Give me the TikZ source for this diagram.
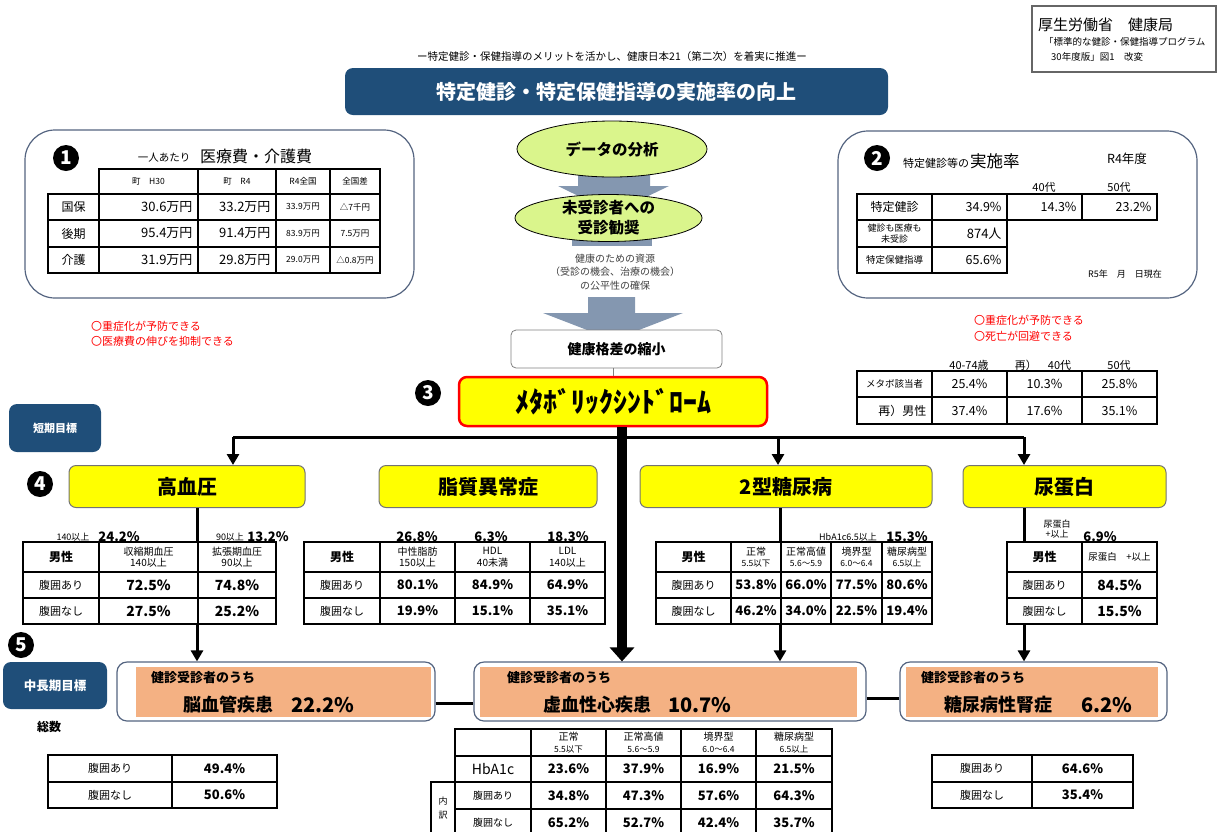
\documentclass[tikz,border=0pt]{standalone}
\usepackage{fontspec}
\setmainfont{Noto Sans CJK JP}
\usetikzlibrary{arrows.meta,shapes.geometric}
\definecolor{navy}{RGB}{31,78,121}
\definecolor{lime}{RGB}{218,245,140}
\definecolor{steel}{RGB}{132,151,176}
\definecolor{salmon}{RGB}{244,177,131}
\definecolor{framec}{RGB}{84,100,128}
\definecolor{redtxt}{RGB}{255,0,0}
\definecolor{darkt}{RGB}{64,64,64}
\definecolor{yel}{RGB}{255,255,0}
\newcommand\fs[2]{\fontsize{#1}{#2}\selectfont}
\newcommand\cellc[6]{\draw[tb] (#1,#3) rectangle (#2,#4); \node[#6] at ({(#1+#2)/2},{(#3+#4)/2}) {#5};}
\newcommand\cellr[6]{\draw[tb] (#1,#3) rectangle (#2,#4); \node[#6,anchor=east] at ({#2-2},{(#3+#4)/2}) {#5};}
\tikzset{
  tb/.style={draw=black,line width=1.3pt,fill=white},
  cnum/.style={circle,fill=black,text=white,inner sep=0pt,minimum size=26,font=\fs{19}{19}\bfseries},
  ybox/.style={draw=black!55,line width=1pt,fill=yel,rounded corners=7,minimum height=42,inner sep=0pt,font=\fs{20}{20}\bfseries},
  nbox/.style={fill=navy,rounded corners=8,text=white,inner sep=0pt,font=\fs{11}{11}\bfseries},
  obox/.style={draw=framec,line width=1.2pt,fill=white,rounded corners=10,minimum height=59,inner sep=0pt},
  con/.style={line width=3pt,draw=black},
  arr/.style={con,-{Triangle[length=11pt,width=12pt]}},
  val/.style={font=\fs{13}{13}\bfseries},
  lab/.style={font=\fs{11}{11}},
  lbb/.style={font=\fs{12}{12}\bfseries},
  hd/.style={font=\fs{10}{11.5},align=center},
  sm/.style={font=\fs{8.5}{9}},
  redl/.style={anchor=west,text=redtxt,font=\fs{11}{11},inner sep=0pt},
}
\begin{document}
\begin{tikzpicture}[x=1pt,y=-1pt]
\useasboundingbox (0,0) rectangle (1217,831);
\clip (0,0) rectangle (1217,831);

% ---------- header ----------
\node[draw=black!60,line width=1.2pt,minimum width=184,minimum height=66,inner sep=0pt] (src) at (1124,39) {};
\node[anchor=west,font=\fs{15}{15},inner sep=0pt] (src1) at (1038,25) {厚生労働省　健康局};
\node[anchor=west,font=\fs{9.5}{9.5},inner sep=0pt] (src2) at (1044,42) {「標準的な健診・保健指導プログラム};
\node[anchor=west,font=\fs{9.5}{9.5},inner sep=0pt] (src3) at (1051,57) {30年度版」図1　改変};

\node[font=\fs{10.5}{10.5}] (sub) at (612,57) {ー特定健診・保健指導のメリットを活かし、健康日本21（第二次）を着実に推進ー};
\node[fill=navy,rounded corners=8,minimum width=543,minimum height=47,inner sep=0pt,text=white,font=\fs{20}{20}\bfseries] (title) at (616.5,91.5) {特定健診・特定保健指導の実施率の向上};

% ---------- box 1 ----------
\node[draw=framec,line width=1.2pt,rounded corners=30,minimum width=389,minimum height=168,inner sep=0pt] (b1) at (219.5,214) {};
\node[cnum] (n1) at (66,158) {1};
\node[font=\fs{10.5}{10.5}] (b1a) at (164,158) {一人あたり};
\node[font=\fs{16}{16}] (b1b) at (256,156) {医療費・介護費};
\begin{scope}[tb/.style={draw=black,line width=1.8pt,fill=white}]
\cellc{99}{198}{169}{194}{町　H30}{sm}
\cellc{198}{276}{169}{194}{町　R4}{sm}
\cellc{276}{330}{169}{194}{R4全国}{sm}
\cellc{330}{380}{169}{194}{全国差}{sm}
\cellc{48}{99}{194}{220}{国保}{font=\fs{12}{12}}
\cellr{99}{198}{194}{220}{30.6万円}{font=\fs{13}{13}}
\cellr{198}{276}{194}{220}{33.2万円}{font=\fs{13}{13}}
\cellc{276}{330}{194}{220}{33.9万円}{sm}
\cellc{330}{380}{194}{220}{△7千円}{sm}
\cellc{48}{99}{220}{247}{後期}{font=\fs{12}{12}}
\cellr{99}{198}{220}{247}{95.4万円}{font=\fs{13}{13}}
\cellr{198}{276}{220}{247}{91.4万円}{font=\fs{13}{13}}
\cellc{276}{330}{220}{247}{83.9万円}{sm}
\cellc{330}{380}{220}{247}{7.5万円}{sm}
\cellc{48}{99}{247}{273}{介護}{font=\fs{12}{12}}
\cellr{99}{198}{247}{273}{31.9万円}{font=\fs{13}{13}}
\cellr{198}{276}{247}{273}{29.8万円}{font=\fs{13}{13}}
\cellc{276}{330}{247}{273}{29.0万円}{sm}
\cellc{330}{380}{247}{273}{△0.8万円}{sm}
\end{scope}
\node[redl] (r1) at (91,326) {〇重症化が予防できる};
\node[redl] (r2) at (91,341) {〇医療費の伸びを抑制できる};

% ---------- box 2 ----------
\node[draw=framec,line width=1.2pt,rounded corners=30,minimum width=359,minimum height=167,inner sep=0pt] (b2) at (1017.5,214.5) {};
\node[cnum] (n2) at (877,158) {2};
\node[anchor=base west,font=\fs{11}{11},inner sep=0pt] (b2a) at (903,167) {特定健診等の};
\node[anchor=base west,font=\fs{16.5}{16.5},inner sep=0pt] (b2b) at (970,167) {実施率};
\node[font=\fs{12.5}{12.5}] (b2c) at (1127,159) {R4年度};
\node[font=\fs{11}{11}] (h40) at (1044,187) {40代};
\node[font=\fs{11}{11}] (h50) at (1119,187) {50代};
\begin{scope}[tb/.style={draw=black,line width=1.6pt,fill=white}]
\cellc{857}{932}{194}{220}{特定健診}{font=\fs{12}{12}}
\cellr{932}{1007}{194}{220}{34.9\%}{font=\fs{12.5}{12.5}}
\cellr{1007}{1082}{194}{220}{14.3\%}{font=\fs{12.5}{12.5}}
\cellr{1082}{1157}{194}{220}{23.2\%}{font=\fs{12.5}{12.5}}
\cellc{857}{932}{220}{247}{健診も医療も\\未受診}{font=\fs{9}{10.5},align=center}
\cellr{932}{1007}{220}{247}{874人}{font=\fs{13}{13}}
\cellc{857}{932}{247}{273}{特定保健指導}{font=\fs{9.5}{9.5}}
\cellr{932}{1007}{247}{273}{65.6\%}{font=\fs{12.5}{12.5}}
\end{scope}
\node[font=\fs{9}{9}] (b2d) at (1125,274) {R5年　月　日現在};
\node[redl] (r3) at (974,320) {〇重症化が予防できる};
\node[redl] (r4) at (974,336) {〇死亡が回避できる};

% metabo table
\node[font=\fs{11}{11}] (m1) at (969,365) {40-74歳};
\node[font=\fs{11}{11}] (m2) at (1043,365) {再）　40代};
\node[font=\fs{11}{11}] (m3) at (1119,365) {50代};
\begin{scope}[tb/.style={draw=black,line width=1.6pt,fill=white}]
\cellc{857}{932}{371}{397}{メタボ該当者}{font=\fs{9.5}{9.5}}
\cellc{932}{1007}{371}{397}{25.4\%}{font=\fs{12.5}{12.5}}
\cellc{1007}{1082}{371}{397}{10.3\%}{font=\fs{12.5}{12.5}}
\cellc{1082}{1157}{371}{397}{25.8\%}{font=\fs{12.5}{12.5}}
\cellr{857}{932}{397}{424}{再）男性}{font=\fs{12}{12}}
\cellc{932}{1007}{397}{424}{37.4\%}{font=\fs{12.5}{12.5}}
\cellc{1007}{1082}{397}{424}{17.6\%}{font=\fs{12.5}{12.5}}
\cellc{1082}{1157}{397}{424}{35.1\%}{font=\fs{12.5}{12.5}}
\end{scope}

% ---------- center flow ----------
\fill[steel] (578,170) -- (650,170) -- (650,186) -- (669,186) -- (613,213) -- (558,186) -- (578,186) -- cycle;
\fill[steel] (572,225) rectangle (652,246);
\fill[steel] (588,297) -- (635,297) -- (635,313) -- (683,313) -- (613,340) -- (543,313) -- (588,313) -- cycle;
\node[ellipse,draw=black,line width=0.8pt,fill=lime,minimum width=190,minimum height=56,inner sep=0pt] (e1) at (612,149) {};
\node[font=\fs{15.5}{15.5}\bfseries] (e1t) at (e1) {データの分析};
\node[ellipse,draw=black,line width=0.8pt,fill=lime,minimum width=187,minimum height=47,inner sep=0pt] (e2) at (608.5,218) {};
\node[font=\fs{15.5}{20}\bfseries,align=center] (e2t) at (e2) {未受診者への\\受診勧奨};
\node[font=\fs{10}{13.5},align=center,text=darkt] (res) at (615,272) {健康のための資源\\（受診の機会、治療の機会）\\の公平性の確保};
\node[draw=black!50,line width=0.8pt,fill=white,rounded corners=5,minimum width=211,minimum height=38,inner sep=0pt,font=\fs{14}{14}\bfseries] (gap) at (616.5,349) {健康格差の縮小};
\node[draw=red,line width=2.5pt,fill=yel,rounded corners=8,minimum width=308,minimum height=49,inner sep=0pt,font=\fs{28}{28}\bfseries] (metabo) at (613,401.5) {ﾒﾀﾎﾞﾘｯｸｼﾝﾄﾞﾛｰﾑ};
\draw[black!50,line width=0.8pt] (gap.south -| metabo.north) -- (metabo.north);
\node[cnum] (n3) at (428,393) {3};

% ---------- side labels ----------
\node[nbox,minimum width=92,minimum height=48] (short) at (55,428) {短期目標};
\node[nbox,minimum width=104,minimum height=47,font=\fs{12.5}{12.5}\bfseries] (midt) at (55,685.5) {中長期目標};
\node[font=\fs{12}{12}\bfseries] (total) at (49,727) {総数};
\node[cnum] (n4) at (40,484) {4};
\node[cnum] (n5) at (21,645) {5};

% ---------- disease boxes ----------
\node[ybox,minimum width=236] (hbp) at (187,486.5) {高血圧};
\node[ybox,minimum width=218] (lip) at (488,486.5) {脂質異常症};
\node[ybox,minimum width=292] (dm) at (786,486.5) {2型糖尿病};
\node[ybox,minimum width=203] (up) at (1064.5,486.5) {尿蛋白};

\node[obox,minimum width=318] (cva) at (276,691.5) {};
\node[obox,minimum width=392] (ihd) at (670,691.5) {};
\node[obox,minimum width=267] (dkd) at (1033.5,691.5) {};
\fill[salmon] (136,667) rectangle (431,717);
\fill[salmon] (480,667) rectangle (857,717);
\fill[salmon] (906,667) rectangle (1158,717);
\node[anchor=west,font=\fs{13}{13}\bfseries,inner sep=0pt] (cva1) at (151,678) {健診受診者のうち};
\node[font=\fs{18}{18}\bfseries] (cva2) at (228,705) {脳血管疾患};
\node[font=\fs{20}{20}\bfseries] (cva3) at (323,705) {22.2\%};
\node[anchor=west,font=\fs{13}{13}\bfseries,inner sep=0pt] (ihd1) at (507,678) {健診受診者のうち};
\node[font=\fs{18}{18}\bfseries] (ihd2) at (597,705) {虚血性心疾患};
\node[font=\fs{20}{20}\bfseries] (ihd3) at (700,705) {10.7\%};
\node[anchor=west,font=\fs{13}{13}\bfseries,inner sep=0pt] (dkd1) at (921,678) {健診受診者のうち};
\node[font=\fs{18}{18}\bfseries] (dkd2) at (998,705) {糖尿病性腎症};
\node[font=\fs{20}{20}\bfseries] (dkd3) at (1107,705) {6.2\%};

% ---------- connectors ----------
\coordinate (br1) at (233,437);
\coordinate (br2) at (778,437);
\coordinate (br3) at (1024,437);
\coordinate (v1) at (197,0);
\coordinate (v2) at (780,0);
\coordinate (v3) at (1024,0);
\draw[con] (br1) -- (br3);
\draw[arr] (br1) -- (br1 |- hbp.north);
\draw[arr] (br2) -- (br2 |- dm.north);
\draw[arr] (br3) -- (br3 |- up.north);
\draw[line width=10pt,-{Triangle[length=14pt,width=24pt]}] ([xshift=9pt]metabo.south) -- ([xshift=9pt]metabo.south |- ihd.north);
\draw[arr] (v1 |- hbp.south) -- (v1 |- cva.north);
\draw[arr] (v2 |- dm.south) -- (v2 |- ihd.north);
\draw[arr] (v3 |- up.south) -- (v3 |- dkd.north);
\draw[con] ([yshift=-12pt]cva.east) -- ([yshift=-12pt]cva.east -| ihd.west);
\draw[con] ([yshift=-7pt]ihd.east) -- ([yshift=-7pt]ihd.east -| dkd.west);

% ---------- table A: hypertension ----------
\node[font=\fs{9}{9}] (ta1) at (73,537) {140以上};
\node[val] (ta2) at (119,537) {24.2\%};
\node[font=\fs{9}{9}] (ta3) at (230,537) {90以上};
\node[val] (ta4) at (268,537) {13.2\%};
\cellc{23}{99}{542}{572}{男性}{lbb}
\cellc{99}{198}{542}{572}{収縮期血圧\\140以上}{hd}
\cellc{198}{276}{542}{572}{拡張期血圧\\90以上}{hd}
\cellc{23}{99}{572}{598}{腹囲あり}{lab}
\cellc{99}{198}{572}{598}{72.5\%}{font=\fs{14}{14}\bfseries}
\cellc{198}{276}{572}{598}{74.8\%}{font=\fs{14}{14}\bfseries}
\cellc{23}{99}{598}{624}{腹囲なし}{lab}
\cellc{99}{198}{598}{624}{27.5\%}{font=\fs{14}{14}\bfseries}
\cellc{198}{276}{598}{624}{25.2\%}{font=\fs{14}{14}\bfseries}

% ---------- table B: lipids ----------
\node[val] (tb1) at (417,537) {26.8\%};
\node[val] (tb2) at (491,537) {6.3\%};
\node[val] (tb3) at (568,537) {18.3\%};
\cellc{304}{380}{542}{572}{男性}{lbb}
\cellc{380}{455}{542}{572}{中性脂肪\\150以上}{hd}
\cellc{455}{530}{542}{572}{HDL\\40未満}{hd}
\cellc{530}{605}{542}{572}{LDL\\140以上}{hd}
\cellc{304}{380}{572}{598}{腹囲あり}{lab}
\cellc{380}{455}{572}{598}{80.1\%}{val}
\cellc{455}{530}{572}{598}{84.9\%}{val}
\cellc{530}{605}{572}{598}{64.9\%}{val}
\cellc{304}{380}{598}{624}{腹囲なし}{lab}
\cellc{380}{455}{598}{624}{19.9\%}{val}
\cellc{455}{530}{598}{624}{15.1\%}{val}
\cellc{530}{605}{598}{624}{35.1\%}{val}

% ---------- table C: diabetes ----------
\node[font=\fs{9}{9}] (tc1) at (848,537) {HbA1c6.5以上};
\node[val] (tc2) at (907,537) {15.3\%};
\cellc{656}{731}{542}{572}{男性}{lbb}
\cellc{731}{781}{542}{572}{正常\\{\fs{8.5}{9}5.5以下}}{hd}
\cellc{781}{831}{542}{572}{正常高値\\{\fs{8.5}{9}5.6～5.9}}{hd}
\cellc{831}{882}{542}{572}{境界型\\{\fs{8.5}{9}6.0～6.4}}{hd}
\cellc{882}{932}{542}{572}{糖尿病型\\{\fs{8.5}{9}6.5以上}}{hd}
\cellc{656}{731}{572}{598}{腹囲あり}{lab}
\cellc{731}{781}{572}{598}{53.8\%}{val}
\cellc{781}{831}{572}{598}{66.0\%}{val}
\cellc{831}{882}{572}{598}{77.5\%}{val}
\cellc{882}{932}{572}{598}{80.6\%}{val}
\cellc{656}{731}{598}{624}{腹囲なし}{lab}
\cellc{731}{781}{598}{624}{46.2\%}{val}
\cellc{781}{831}{598}{624}{34.0\%}{val}
\cellc{831}{882}{598}{624}{22.5\%}{val}
\cellc{882}{932}{598}{624}{19.4\%}{val}

% ---------- table D: urine protein ----------
\node[font=\fs{9}{10.5},align=center] (td1) at (1057,529) {尿蛋白\\+以上};
\node[val] (td2) at (1100,537) {6.9\%};
\cellc{1007}{1082}{542}{572}{男性}{lbb}
\cellc{1082}{1157}{542}{572}{尿蛋白　+以上}{font=\fs{9.5}{9.5}}
\cellc{1007}{1082}{572}{598}{腹囲あり}{lab}
\cellc{1082}{1157}{572}{598}{84.5\%}{font=\fs{14}{14}\bfseries}
\cellc{1007}{1082}{598}{624}{腹囲なし}{lab}
\cellc{1082}{1157}{598}{624}{15.5\%}{font=\fs{14}{14}\bfseries}

% ---------- bottom tables ----------
\cellc{48}{172}{755}{782}{腹囲あり}{lab}
\cellc{172}{277}{755}{782}{49.4\%}{val}
\cellc{48}{172}{782}{808}{腹囲なし}{lab}
\cellc{172}{277}{782}{808}{50.6\%}{val}

\cellc{455}{531}{729}{756}{}{}
\cellc{531}{606}{729}{756}{正常\\{\fs{8.5}{9}5.5以下}}{hd}
\cellc{606}{681}{729}{756}{正常高値\\{\fs{8.5}{9}5.6～5.9}}{hd}
\cellc{681}{756}{729}{756}{境界型\\{\fs{8.5}{9}6.0～6.4}}{hd}
\cellc{756}{832}{729}{756}{糖尿病型\\{\fs{8.5}{9}6.5以上}}{hd}
\cellc{455}{531}{756}{782}{HbA1c}{font=\fs{14}{14}}
\cellc{531}{606}{756}{782}{23.6\%}{val}
\cellc{606}{681}{756}{782}{37.9\%}{val}
\cellc{681}{756}{756}{782}{16.9\%}{val}
\cellc{756}{832}{756}{782}{21.5\%}{val}
\cellc{431}{455}{782}{840}{}{}
\node[font=\fs{9}{14},align=center] (uw) at (443,808) {内\\訳};
\cellc{455}{531}{782}{809}{腹囲あり}{font=\fs{10}{10}}
\cellc{531}{606}{782}{809}{34.8\%}{val}
\cellc{606}{681}{782}{809}{47.3\%}{val}
\cellc{681}{756}{782}{809}{57.6\%}{val}
\cellc{756}{832}{782}{809}{64.3\%}{val}
\cellc{455}{531}{809}{836}{腹囲なし}{font=\fs{10}{10}}
\cellc{531}{606}{809}{836}{65.2\%}{val}
\cellc{606}{681}{809}{836}{52.7\%}{val}
\cellc{681}{756}{809}{836}{42.4\%}{val}
\cellc{756}{832}{809}{836}{35.7\%}{val}

\cellc{932}{1032}{755}{782}{腹囲あり}{lab}
\cellc{1032}{1133}{755}{782}{64.6\%}{val}
\cellc{932}{1032}{782}{808}{腹囲なし}{lab}
\cellc{1032}{1133}{782}{808}{35.4\%}{val}
\end{tikzpicture}
\end{document}
